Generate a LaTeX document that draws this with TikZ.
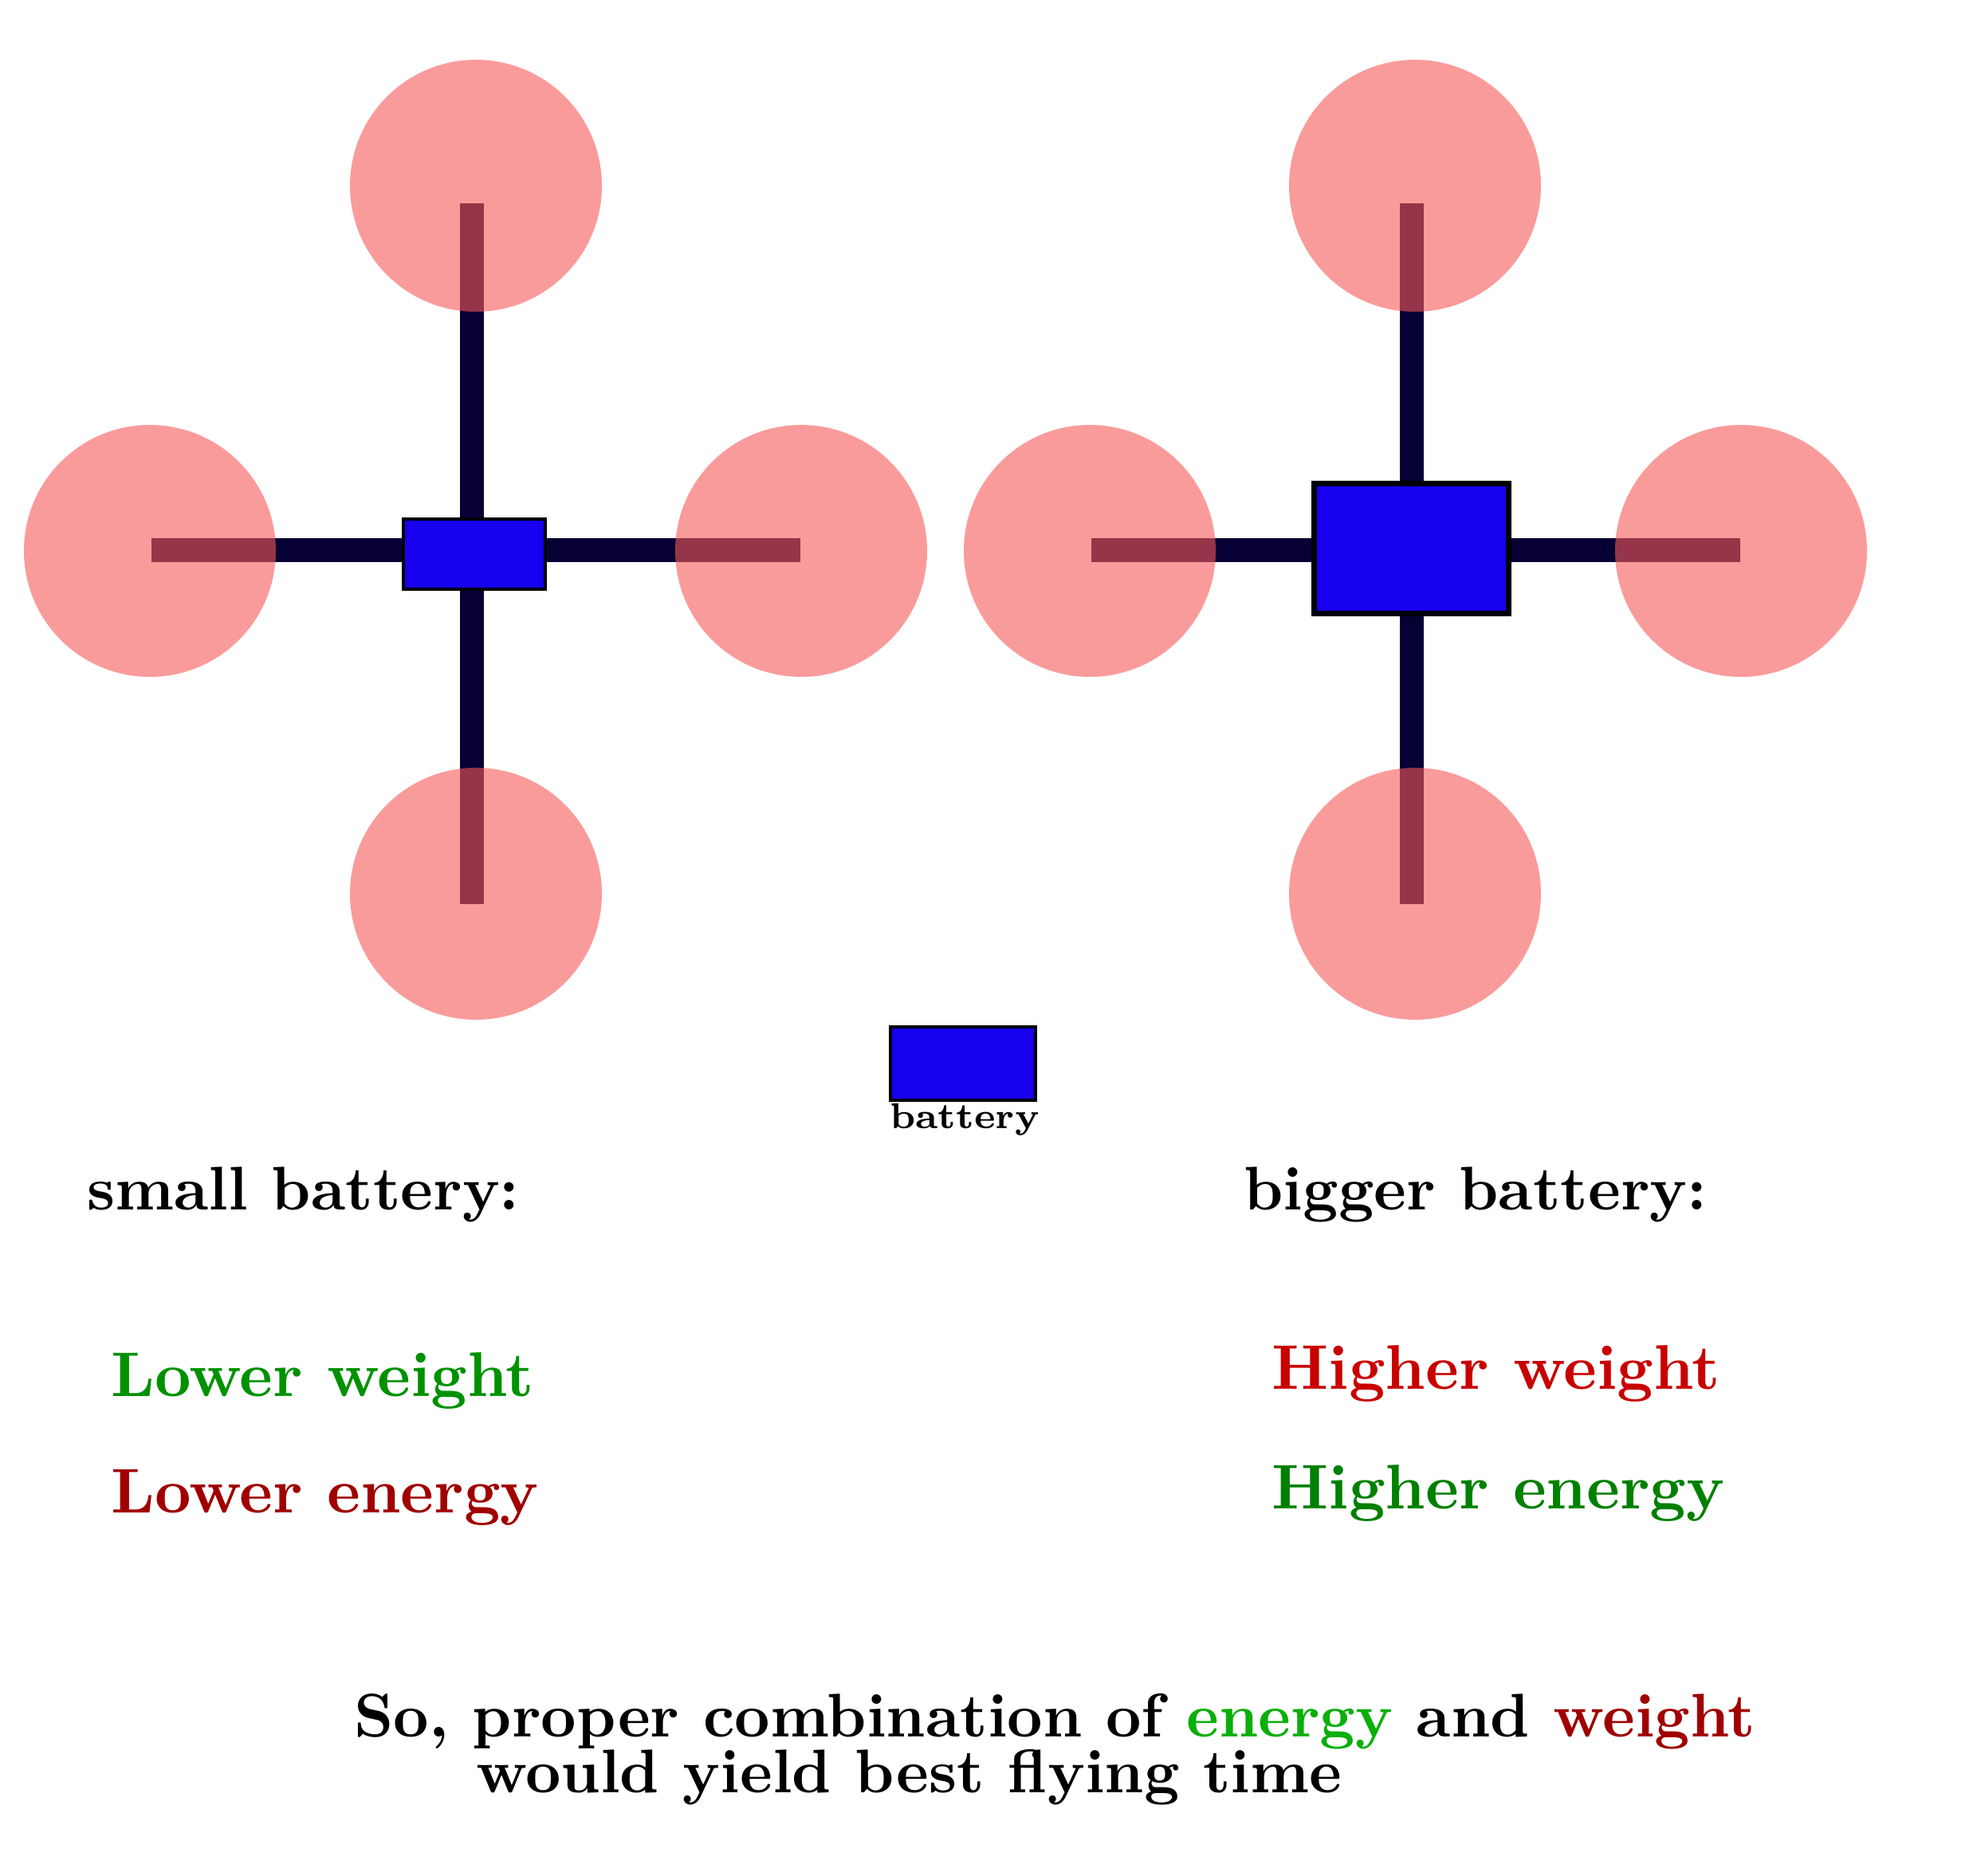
\documentclass[tikz,border=0pt]{standalone}
\usepackage{tikz}

\definecolor{armColor}{RGB}{6,0,52}
\definecolor{rotorRed}{RGB}{247,88,88}
\definecolor{battBlue}{RGB}{22,0,238}
\definecolor{goodGreen}{RGB}{0,145,0}
\definecolor{deepGreen}{RGB}{0,128,0}
\definecolor{lightGreen}{RGB}{10,175,10}
\definecolor{badRed}{RGB}{200,0,0}
\definecolor{deepRed}{RGB}{160,0,0}

\begin{document}
\begin{tikzpicture}[
  arm/.style={draw=armColor, line width=0.3cm},
  rotor/.style={circle, fill=rotorRed, fill opacity=0.6, minimum size=3.16cm, inner sep=0pt},
  battery/.style={draw=black, fill=battBlue, line width=1.2pt, inner sep=0pt},
  txt/.style={anchor=base west, inner sep=0pt, scale=2.2, font=\bfseries},
  effect/.style={txt, scale=1.025}
]

\useasboundingbox (0,0) rectangle (24.8,23.53);

% Arm end points (left drone)
\coordinate (L-armN) at (5.92,20.98);
\coordinate (L-armS) at (5.92,12.19);
\coordinate (L-armW) at (1.90,16.63);
\coordinate (L-armE) at (10.04,16.63);

% Arm end points (right drone)
\coordinate (R-armN) at (17.71,20.98);
\coordinate (R-armS) at (17.71,12.19);
\coordinate (R-armW) at (13.69,16.63);
\coordinate (R-armE) at (21.83,16.63);

% Arms
\draw[arm] (L-armW) -- (L-armE);
\draw[arm] (L-armN) -- (L-armS);
\draw[arm] (R-armW) -- (R-armE);
\draw[arm] (R-armN) -- (R-armS);

% Rotors (left drone)
\node[rotor] (L-rotorN) at (5.97,21.20) {};
\node[rotor] (L-rotorS) at (5.97,12.32) {};
\node[rotor] (L-rotorW) at (1.88,16.62) {};
\node[rotor] (L-rotorE) at (10.05,16.62) {};

% Rotors (right drone)
\node[rotor] (R-rotorN) at (17.75,21.20) {};
\node[rotor] (R-rotorS) at (17.75,12.32) {};
\node[rotor] (R-rotorW) at (13.67,16.62) {};
\node[rotor] (R-rotorE) at (21.84,16.62) {};

% Batteries
\node[battery, minimum width=1.78cm, minimum height=0.88cm] (L-batt) at (5.95,16.58) {};
\node[battery, line width=2pt, minimum width=2.44cm, minimum height=1.63cm] (R-batt) at (17.70,16.65) {};

% Legend
\node[battery, minimum width=1.82cm, minimum height=0.92cm] (legendBatt) at (12.08,10.19) {};
\node[anchor=base, inner sep=0pt, scale=1.83, font=\scriptsize\bfseries] (legendLabel) at (12.10,9.37) {battery};

% Captions
\node[txt] (smallCap) at (1.08,8.35) {small battery:};
\node[txt] (bigCap) at (15.59,8.35) {bigger battery:};

\node[effect, text=goodGreen] (smallWeight) at (1.38,6.01) {Lower weight};
\node[effect, text=deepRed] (smallEnergy) at (1.38,4.55) {Lower energy};
\node[effect, text=badRed] (bigWeight) at (15.94,6.10) {Higher weight};
\node[effect, text=deepGreen] (bigEnergy) at (15.94,4.60) {Higher energy};

% Conclusion
\node[txt] (concl1) at (4.43,1.74) {So, proper combination of \textcolor{lightGreen}{energy} and \textcolor{deepRed}{weight}};
\node[txt] (concl2) at (5.96,1.04) {would yield best flying time};

\end{tikzpicture}
\end{document}
